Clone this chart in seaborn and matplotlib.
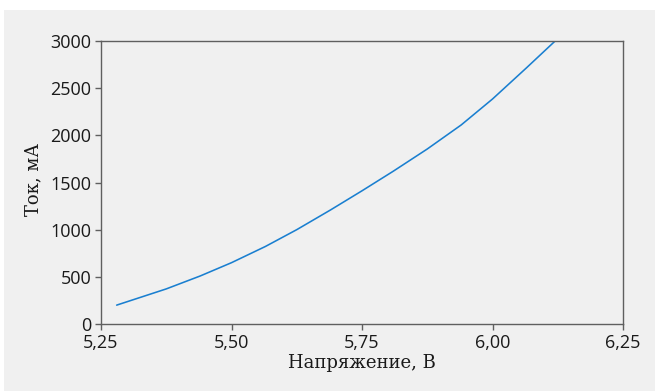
import matplotlib
matplotlib.use("Agg")
import matplotlib.pyplot as plt
from matplotlib.patches import Rectangle
import seaborn as sns
import pandas as pd

# Measured I–V points
voltage_v = [5.28, 5.375, 5.44, 5.50, 5.565, 5.625, 5.69, 5.75,
             5.81, 5.875, 5.94, 6.00, 6.065, 6.12]
current_ma = [200, 372, 509, 650, 822, 1000, 1210, 1412,
              1620, 1855, 2110, 2385, 2715, 3000]

x_ticks = [5.25, 5.50, 5.75, 6.00, 6.25]
y_ticks = [0, 500, 1000, 1500, 2000, 2500, 3000]

bg = "#f0f0f0"
spine = "#5f5f5f"

sns.set_theme(style="ticks")
plt.rcParams.update({
    "axes.edgecolor": spine,
    "axes.linewidth": 1.0,
    "xtick.color": spine,
    "ytick.color": spine,
    "xtick.labelcolor": "#1a1a1a",
    "ytick.labelcolor": "#1a1a1a",
    "xtick.major.size": 4,
    "ytick.major.size": 4,
    "xtick.major.width": 1.0,
    "ytick.major.width": 1.0,
    "xtick.major.pad": 3,
    "ytick.major.pad": 3,
})

df = pd.DataFrame({"U": voltage_v, "I": current_ma})

fig = plt.figure(figsize=(6.55, 3.91), dpi=100, facecolor="white")
fig.patches.append(Rectangle((4 / 655, 0), 1, 1 - 10 / 391,
                             transform=fig.transFigure, facecolor=bg,
                             edgecolor="none", zorder=-10))
ax = fig.add_axes([101 / 655, 1 - 324 / 391, 522 / 655, 283 / 391])
ax.set_facecolor(bg)

sns.lineplot(data=df, x="U", y="I", ax=ax, color="#1a7fd0", linewidth=1.15)

ax.set_xlim(5.25, 6.25)
ax.set_ylim(0, 3000)
ax.set_xticks(x_ticks)
ax.set_yticks(y_ticks)
ax.set_xticklabels([f"{v:.2f}".replace(".", ",") for v in x_ticks],
                   fontfamily="Open Sans", fontsize=13)
ax.set_yticklabels([str(v) for v in y_ticks],
                   fontfamily="Open Sans", fontsize=13)
ax.tick_params(top=False, right=False)
for s in ax.spines.values():
    s.set_visible(True)

ax.set_xlabel("Напряжение, В", fontfamily="DejaVu Serif", fontsize=13,
              color="#1a1a1a", labelpad=2)
ax.set_ylabel("Ток, мА", fontfamily="DejaVu Serif", fontsize=13,
              color="#1a1a1a")
ax.yaxis.set_label_coords(-0.113, 0.509)

fig.savefig("out.png", dpi=100, facecolor="white")
